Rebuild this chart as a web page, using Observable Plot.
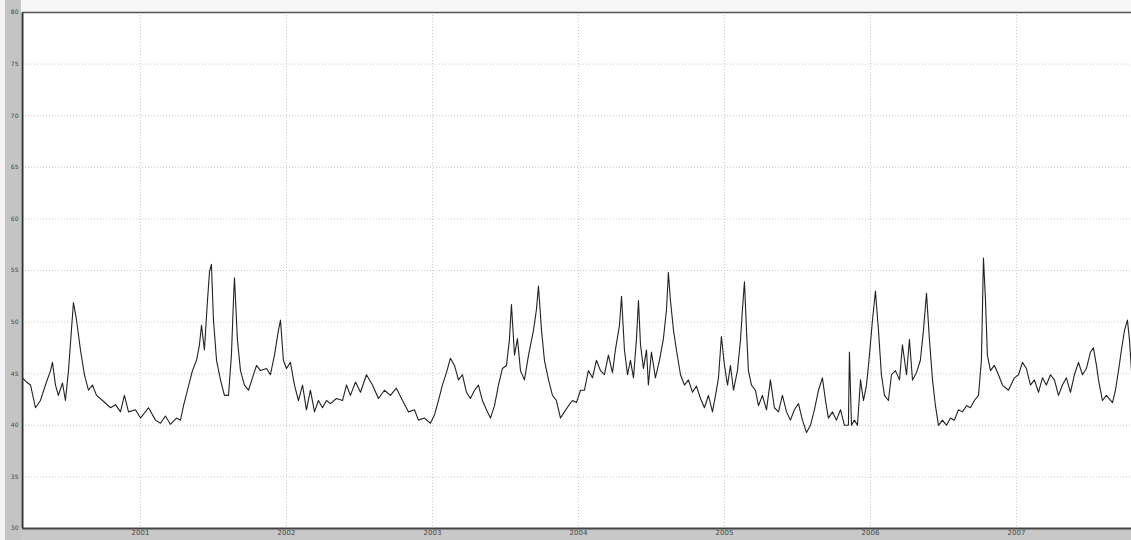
<!DOCTYPE html>
<html><head><meta charset="utf-8">
<script src="https://cdn.jsdelivr.net/npm/d3@7"></script>
<script src="https://cdn.jsdelivr.net/npm/@observablehq/plot@0.6"></script>
<style>
html,body{margin:0;padding:0;background:#f4f4f4;}
#chart svg{display:block;}
</style></head>
<body><div id="chart"></div>
<script>
const t = [2000.192,2000.219,2000.247,2000.281,2000.315,2000.349,2000.384,2000.397,2000.418,2000.438,2000.466,2000.486,2000.507,2000.527,2000.541,2000.562,2000.589,2000.616,2000.644,2000.671,2000.699,2000.740,2000.795,2000.829,2000.863,2000.890,2000.918,2000.966,2001.000,2001.055,2001.103,2001.137,2001.171,2001.205,2001.247,2001.274,2001.295,2001.322,2001.356,2001.384,2001.404,2001.418,2001.438,2001.459,2001.473,2001.486,2001.500,2001.521,2001.548,2001.575,2001.603,2001.623,2001.637,2001.644,2001.664,2001.685,2001.712,2001.740,2001.767,2001.795,2001.822,2001.863,2001.890,2001.918,2001.945,2001.959,2001.979,2002.000,2002.027,2002.055,2002.082,2002.110,2002.137,2002.164,2002.192,2002.219,2002.247,2002.274,2002.301,2002.342,2002.384,2002.411,2002.438,2002.473,2002.507,2002.548,2002.589,2002.630,2002.671,2002.712,2002.753,2002.795,2002.836,2002.877,2002.904,2002.945,2002.986,2003.014,2003.041,2003.068,2003.096,2003.123,2003.151,2003.178,2003.205,2003.233,2003.260,2003.288,2003.315,2003.342,2003.370,2003.397,2003.425,2003.452,2003.479,2003.507,2003.527,2003.541,2003.562,2003.582,2003.603,2003.630,2003.658,2003.692,2003.712,2003.726,2003.747,2003.767,2003.795,2003.822,2003.849,2003.877,2003.904,2003.932,2003.959,2003.986,2004.014,2004.041,2004.068,2004.096,2004.123,2004.151,2004.178,2004.205,2004.233,2004.253,2004.281,2004.295,2004.315,2004.336,2004.356,2004.377,2004.397,2004.411,2004.425,2004.445,2004.466,2004.479,2004.500,2004.527,2004.555,2004.582,2004.603,2004.616,2004.630,2004.651,2004.671,2004.699,2004.726,2004.753,2004.781,2004.808,2004.836,2004.863,2004.890,2004.918,2004.945,2004.959,2004.979,2005.000,2005.021,2005.041,2005.062,2005.089,2005.110,2005.123,2005.137,2005.151,2005.164,2005.185,2005.212,2005.233,2005.260,2005.288,2005.315,2005.342,2005.370,2005.397,2005.425,2005.452,2005.479,2005.507,2005.534,2005.562,2005.589,2005.616,2005.644,2005.671,2005.692,2005.712,2005.740,2005.767,2005.795,2005.822,2005.849,2005.856,2005.870,2005.890,2005.911,2005.932,2005.952,2005.973,2005.993,2006.014,2006.034,2006.055,2006.075,2006.096,2006.123,2006.144,2006.171,2006.199,2006.219,2006.247,2006.267,2006.288,2006.315,2006.342,2006.363,2006.384,2006.404,2006.425,2006.445,2006.466,2006.493,2006.521,2006.548,2006.575,2006.603,2006.630,2006.658,2006.685,2006.712,2006.740,2006.760,2006.774,2006.788,2006.801,2006.822,2006.849,2006.877,2006.904,2006.945,2006.986,2007.014,2007.041,2007.068,2007.096,2007.123,2007.151,2007.178,2007.205,2007.233,2007.260,2007.288,2007.315,2007.342,2007.370,2007.397,2007.425,2007.452,2007.479,2007.507,2007.527,2007.548,2007.562,2007.589,2007.616,2007.658,2007.678,2007.699,2007.719,2007.740,2007.760,2007.774,2007.788];
const v = [44.6,44.2,43.9,41.7,42.4,43.9,45.3,46.1,43.9,42.9,44.1,42.4,45.3,49.2,51.9,50.2,47.3,44.9,43.4,43.9,42.9,42.4,41.7,42.0,41.3,42.9,41.3,41.5,40.7,41.7,40.5,40.2,40.9,40.1,40.7,40.5,41.9,43.4,45.3,46.3,47.8,49.7,47.3,52.1,54.9,55.6,50.2,46.3,44.4,42.9,42.9,46.8,52.1,54.3,48.3,45.3,43.9,43.4,44.6,45.8,45.3,45.5,44.9,46.8,49.2,50.2,46.3,45.5,46.1,43.9,42.4,43.9,41.5,43.4,41.3,42.4,41.7,42.4,42.1,42.6,42.4,43.9,42.9,44.2,43.2,44.9,43.9,42.6,43.4,42.9,43.6,42.4,41.3,41.5,40.5,40.7,40.2,41.0,42.4,43.9,45.1,46.5,45.8,44.4,44.9,43.2,42.6,43.4,43.9,42.4,41.5,40.7,41.9,43.9,45.5,45.8,48.3,51.7,46.8,48.4,45.3,44.4,46.8,49.2,51.2,53.5,49.2,46.3,44.4,42.9,42.4,40.7,41.3,41.9,42.4,42.2,43.4,43.4,45.3,44.6,46.3,45.3,44.9,46.8,45.1,47.3,49.7,52.5,47.3,44.9,46.3,44.6,48.3,52.1,47.8,45.5,47.3,43.9,47.1,44.6,46.3,48.4,51.2,54.8,52.1,49.2,47.3,44.9,43.9,44.4,43.2,43.8,42.6,41.7,42.9,41.3,43.4,44.6,48.6,45.8,43.9,45.8,43.4,45.3,48.3,51.2,53.9,49.2,45.3,43.9,43.4,41.9,42.9,41.5,44.4,41.7,41.3,42.9,41.3,40.5,41.5,42.1,40.5,39.3,40.0,41.5,43.4,44.6,42.4,40.7,41.3,40.5,41.5,40.0,40.0,47.1,40.0,40.5,40.0,44.4,42.4,43.9,46.8,50.2,53.0,49.2,44.9,42.9,42.4,44.9,45.3,44.4,47.8,44.9,48.3,44.4,45.1,46.3,49.2,52.8,48.3,44.4,41.9,40.0,40.5,40.0,40.7,40.5,41.5,41.3,41.9,41.7,42.4,42.9,46.3,56.2,52.1,46.8,45.3,45.8,44.9,43.9,43.4,44.6,44.9,46.1,45.5,43.9,44.4,43.2,44.6,43.9,44.9,44.4,42.9,43.9,44.6,43.2,44.9,46.1,44.9,45.5,47.1,47.5,45.8,44.4,42.4,42.9,42.2,43.4,45.3,47.3,49.2,50.2,48.3,45.3];
const yTicks = [30,35,40,45,50,55,60,65,70,75,80];
const xTicks = [2001,2002,2003,2004,2005,2006,2007];

const data = t.map((d,i) => ({t:d, v:v[i]}));
const x0 = t[0], x1 = t[t.length-1];

const chart = Plot.plot({
  width: 1131, height: 540,
  marginLeft: 22, marginRight: 0, marginTop: 12, marginBottom: 12,
  style: {
    background: "linear-gradient(to right, #f4f4f4 5px, #c4c4c4 5px, #c4c4c4 21px, transparent 21px), linear-gradient(to top, #c8c8c8 12px, #f6f6f6 12px)",
    fontFamily: "DejaVu Sans"
  },
  x: {domain: [x0, x1], ticks: xTicks, tickFormat: d => String(d), tickSize: 0, tickPadding: 2, label: null},
  y: {domain: [30, 80], ticks: yTicks, tickSize: 0, tickPadding: 4, label: null},
  marks: [
    Plot.frame({fill: "white", stroke: "none"}),
    Plot.ruleY(yTicks.slice(1, -1), {stroke: "#c8c8c8", strokeDasharray: "1,2"}),
    Plot.ruleX(xTicks, {stroke: "#c8c8c8", strokeDasharray: "1,2"}),
    Plot.axisY({ticks: yTicks, tickSize: 0, tickPadding: 4, fontSize: 6, fill: "#444", label: null}),
    Plot.axisX({ticks: xTicks, tickFormat: d => String(d), tickSize: 0, tickPadding: 2, fontSize: 7, fill: "#444", label: null}),
    Plot.line(data, {x: "t", y: "v", stroke: "#222", strokeWidth: 1.1}),
    Plot.ruleX([x0], {stroke: "#333", strokeWidth: 2}),
    Plot.ruleY([30], {stroke: "#444", strokeWidth: 2}),
    Plot.ruleY([80], {stroke: "#555", strokeWidth: 1.5})
  ]
});
document.getElementById("chart").appendChild(chart);
</script></body></html>
